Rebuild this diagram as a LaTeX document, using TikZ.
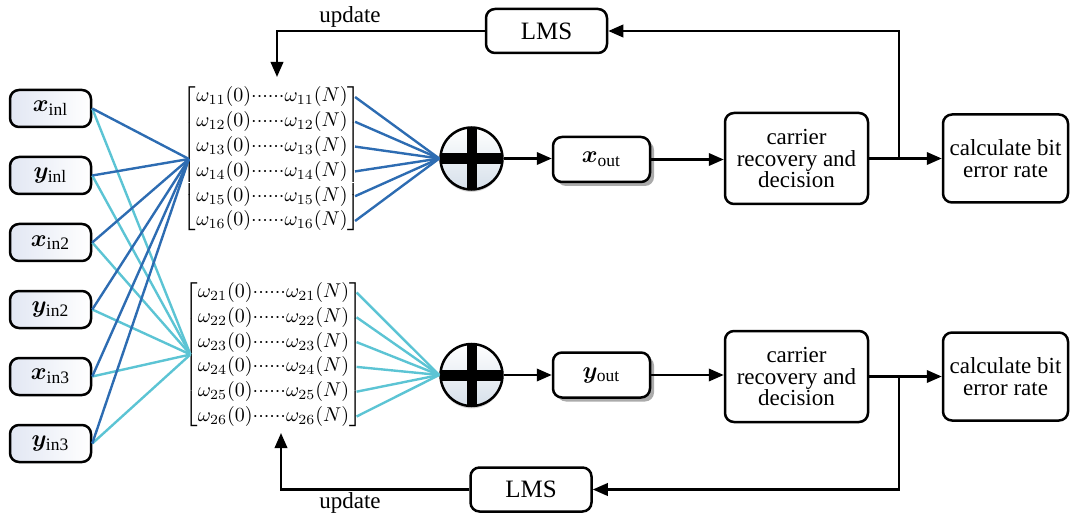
\documentclass[tikz,border=0pt]{standalone}
\usepackage{fontspec}
\usepackage{amsmath,bm}
\setmainfont{Liberation Serif}
\usetikzlibrary{arrows.meta,shadows,calc}
\definecolor{wdark}{RGB}{45,108,178}
\definecolor{wlight}{RGB}{92,196,212}
\definecolor{boxtint}{RGB}{226,231,243}
\definecolor{disctint}{RGB}{214,224,234}

% one row of tap weights
\newcommand{\wrow}[1]{\omega_{#1}(0){\cdot}{\cdot}{\cdot}{\cdot}{\cdot}{\cdot}\omega_{#1}(N)}

\begin{document}
\begin{tikzpicture}[x=0.5pt,y=-0.5pt,
  box/.style={draw, line width=1.25pt, rounded corners=4.5pt, fill=white,
    align=center, inner sep=0pt, font=\fontsize{11.5}{10.8}\selectfont},
  inbox/.style={box, minimum width=40.5pt, minimum height=18.5pt,
    left color=boxtint, right color=white, font=\fontsize{12.5}{12}\selectfont},
  outbox/.style={box, minimum width=48.5pt, minimum height=22.5pt,
    drop shadow={shadow xshift=2pt, shadow yshift=-2pt, fill=black!60, opacity=0.55},
    font=\fontsize{12.5}{12}\selectfont},
  procbox/.style={box, minimum width=71.5pt, minimum height=45.5pt},
  berbox/.style={box, minimum width=62.5pt, minimum height=44pt},
  lmsbox/.style={box, minimum width=60.5pt, minimum height=22pt,
    font=\fontsize{12.5}{12}\selectfont},
  wmat/.style={inner xsep=-3.2pt, inner ysep=0pt, font=\fontsize{10.4}{12.4}\selectfont},
  adder/.style={circle, draw, line width=1.25pt, minimum size=31pt, inner sep=0pt,
    top color=white, bottom color=disctint,
    drop shadow={shadow xshift=0pt, shadow yshift=-1.2pt, fill=black!40, opacity=0.4},
    path picture={
      \fill ($(path picture bounding box.west)+(0,-5.5)$) rectangle
            ($(path picture bounding box.east)+(0,5.5)$);
      \fill ($(path picture bounding box.north)+(-5,0)$) rectangle
            ($(path picture bounding box.south)+(5,0)$);}},
  lbl/.style={font=\fontsize{11.5}{12}\selectfont, inner sep=0pt},
  arr/.style={line width=1.2pt, -{Triangle[length=7.5pt,width=6.2pt]}},
  dw/.style={line width=1.2pt, wdark},
  lw/.style={line width=1.2pt, wlight},
]
\useasboundingbox (0,0) rectangle (1070,518);

% input signals
\node[inbox] (in1) at (50.5,108.5) {$\bm{x}_{\mathrm{inl}}$};
\node[inbox] (in2) at (50.5,175.5) {$\bm{y}_{\mathrm{inl}}$};
\node[inbox] (in3) at (50.5,242.5) {$\bm{x}_{\mathrm{in2}}$};
\node[inbox] (in4) at (50.5,309.5) {$\bm{y}_{\mathrm{in2}}$};
\node[inbox] (in5) at (50.5,376.5) {$\bm{x}_{\mathrm{in3}}$};
\node[inbox] (in6) at (50.5,443.5) {$\bm{y}_{\mathrm{in3}}$};

% tap-weight matrices
\node[wmat] (m1) at (272,159) {$\left[\begin{array}{@{}l@{}}
  \wrow{11}\\ \wrow{12}\\ \wrow{13}\\ \wrow{14}\\ \wrow{15}\\ \wrow{16}
  \end{array}\right]$};
\node[wmat] (m2) at (273.5,354.5) {$\left[\begin{array}{@{}l@{}}
  \wrow{21}\\ \wrow{22}\\ \wrow{23}\\ \wrow{24}\\ \wrow{25}\\ \wrow{26}
  \end{array}\right]$};

% adders and outputs
\node[adder] (s1) at (471.5,158.5) {};
\node[adder] (s2) at (471.5,375) {};
\node[outbox] (xo) at (601.5,159.5) {$\bm{x}_{\mathrm{out}}$};
\node[outbox] (yo) at (601.5,375) {$\bm{y}_{\mathrm{out}}$};

% decision and BER blocks
\node[procbox] (c1) at (796.5,158.5) {carrier\\recovery and\\decision};
\node[procbox] (c2) at (796.5,376.5) {carrier\\recovery and\\decision};
\node[berbox] (ber1) at (1005.5,158.5) {calculate bit\\error rate};
\node[berbox] (ber2) at (1005.5,376.5) {calculate bit\\error rate};

% LMS feedback blocks
\node[lmsbox] (l1) at (546.5,31) {LMS};
\node[lmsbox] (l2) at (531,489.5) {LMS};
\node[lbl] (t1) at (350,17) {update};
\node[lbl] (t2) at (350,503) {update};

% fan-in from the inputs to both matrices
\foreach \i in {1,...,6}{
  \draw[lw] (in\i.east) -- (m2.west);
}
\foreach \i in {1,...,6}{
  \draw[dw] (in\i.east) -- (m1.west);
}

% fan-out from matrix rows to the adders
\foreach \k/\o in {1/-62,2/-37.2,3/-12.4,4/12.4,5/37.2,6/62}{
  \coordinate (ra\k) at ($(m1.east)+(0,\o)$);
  \coordinate (rb\k) at ($(m2.east)+(0,\o)$);
  \draw[dw] (ra\k) -- (s1.west);
  \draw[lw] (rb\k) -- (s2.west);
}

% signal path
\draw[arr] (s1.east) -- (s1.east -| xo.west);
\draw[arr] (xo.east) -- (xo.east -| c1.west);
\draw[arr] (c1.east) -- (ber1.west);
\draw[arr] (s2.east) -- (yo.west);
\draw[arr] (yo.east) -- (yo.east -| c2.west);
\draw[arr] (c2.east) -- (ber2.west);

% feedback loops
\coordinate (j1) at (899,158.5);
\coordinate (j2) at (899,376.5);
\coordinate (u1) at (277,77);
\coordinate (u2) at (281,433);
\draw[arr] (j1) |- (l1.east);
\draw[arr] (l1.west) -| (u1);
\draw[arr] (j2) |- (l2.east);
\draw[arr] (l2.west) -| (u2);
\end{tikzpicture}
\end{document}
